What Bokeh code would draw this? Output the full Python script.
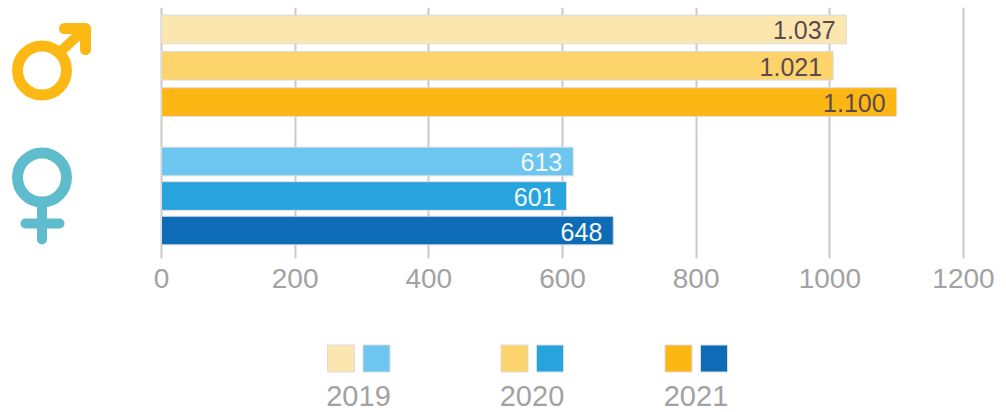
from bokeh.plotting import figure
from bokeh.layouts import column
from bokeh.models import Range1d, FixedTicker, ColumnDataSource
from bokeh.core.properties import value
from bokeh.embed import file_html
from bokeh.resources import INLINE

years = ["2019", "2020", "2021"]
male_bars = [1025, 1005, 1100]
female_bars = [616, 606, 676]
male_labels = ["1.037", "1.021", "1.100"]
female_labels = ["613", "601", "648"]
male_colors = ["#fce6b0", "#fdd46c", "#fdb714"]
female_colors = ["#6cc6f0", "#27a3de", "#0e6cb6"]
ticks = [0, 200, 400, 600, 800, 1000, 1200]

FONT = value("Liberation Sans")
GREY = "#a2a2a2"
MALE_ICON = "#fdb913"
FEMALE_ICON = "#5fbccd"

W = 1006
PX_LEFT, PX_RIGHT = 0, 1006
PX_TOP, PX_FRAME_BOTTOM = 7, 258
X0, UNIT = 161, 802 / 1200          # pixel of value 0, pixels per unit

p = figure(width=W, height=308, output_backend="svg", toolbar_location=None,
           x_range=Range1d((PX_LEFT - X0) / UNIT, (PX_RIGHT - X0) / UNIT),
           y_range=Range1d(6.47, -0.62), y_axis_location=None,
           min_border=0, min_border_top=PX_TOP, min_border_bottom=50,
           outline_line_color=None,
           background_fill_color="white", border_fill_color="white")
p.extra_x_ranges["px"] = Range1d(PX_LEFT, PX_RIGHT)
p.extra_y_ranges["px"] = Range1d(PX_FRAME_BOTTOM, PX_TOP)

p.xaxis.ticker = FixedTicker(ticks=ticks)
p.xaxis.axis_line_color = None
p.xaxis.major_tick_line_color = None
p.xaxis.minor_tick_line_color = None
p.xaxis.major_label_text_font = "Liberation Sans"
p.xaxis.major_label_text_font_size = "28px"
p.xaxis.major_label_text_color = GREY
p.xaxis.major_label_standoff = 4
p.ygrid.visible = False
p.xgrid.grid_line_color = "#c9c9c9"
p.xgrid.grid_line_width = 2

MALE_STEP, FEMALE_STEP, FEMALE_START = 1.025, 0.975, 3.73
rows = [MALE_STEP * i for i in range(3)] + [FEMALE_START + FEMALE_STEP * i for i in range(3)]
src = ColumnDataSource(dict(
    y=rows,
    v=male_bars + female_bars,
    c=male_colors + female_colors,
    t=male_labels + female_labels,
    tc=["#5b4a4c"] * 3 + ["#f2f8fc"] * 3,
))
p.hbar(y="y", left=0, right="v", height=0.81, fill_color="c",
       line_color="#dcdcdc", line_width=1, source=src)
p.text(x="v", y="y", text="t", text_color="tc", text_font=FONT,
       text_font_size="25px", text_align="right", text_baseline="middle",
       x_offset=-11, y_offset=1, source=src)

# Icons, drawn in pixels
icon = dict(x_range_name="px", y_range_name="px")
p.scatter([41.5], [70], size=49, marker="circle", fill_color=None,
          line_color=MALE_ICON, line_width=11, **icon)
p.line([60, 84], [51, 29], line_color=MALE_ICON, line_width=10, **icon)
p.line([64, 85, 85], [28, 28, 49], line_color=MALE_ICON, line_width=11,
       line_cap="round", line_join="round", **icon)
p.scatter([41.5], [177], size=49, marker="circle", fill_color=None,
          line_color=FEMALE_ICON, line_width=11, **icon)
p.line([41.5, 41.5], [205, 239], line_color=FEMALE_ICON, line_width=10,
       line_cap="round", **icon)
p.line([25, 59], [223, 223], line_color=FEMALE_ICON, line_width=10,
       line_cap="round", **icon)

# Legend
leg = figure(width=W, height=104, output_backend="svg", toolbar_location=None,
             x_range=Range1d(PX_LEFT, PX_RIGHT), y_range=Range1d(412, 308),
             x_axis_location=None, y_axis_location=None, min_border=0,
             outline_line_color=None, background_fill_color="white",
             border_fill_color="white")
leg.grid.visible = False
centres = [358, 531.5, 695.5]
leg.rect([c - 17.5 for c in centres], 358, width=27, height=27,
         fill_color=male_colors, line_color="#dcdcdc", line_width=1)
leg.rect([c + 18 for c in centres], 358, width=27, height=27,
         fill_color=female_colors, line_color="#dcdcdc", line_width=1)
leg.text(centres, [395] * 3, text=years, text_color=GREY, text_font=FONT,
         text_font_size="29px", text_align="center", text_baseline="middle")

open("out.html", "w").write(file_html(column(p, leg), INLINE))
